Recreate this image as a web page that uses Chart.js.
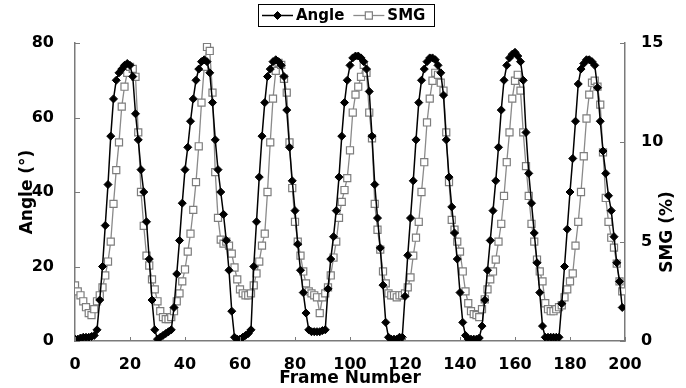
<!DOCTYPE html>
<html>
<head>
<meta charset="utf-8">
<title>Angle and SMG</title>
<script src="https://cdn.jsdelivr.net/npm/chart.js@4.4.0/dist/chart.umd.min.js"></script>
<style>
  html, body { margin: 0; padding: 0; background: #fff; }
  #wrap { width: 686px; height: 388px; }
</style>
</head>
<body>
<div id="wrap"><canvas id="chart" width="686" height="388"></canvas></div>
<script>
// knee angle (degrees), one value per frame, frames 0..199
const angle = [
  0.5, 0.5, 0.8, 1, 1, 1, 1.2, 1.5, 3, 11,
  20, 31, 42, 55, 65, 70, 72, 73, 74, 74.5,
  74, 71, 61, 54, 46, 40, 32, 22, 11, 3,
  0.5, 1, 1.5, 2, 2.5, 3, 9, 18, 27, 37,
  46, 52, 59, 65, 70, 73, 75, 75.5, 75, 72,
  64, 54, 46, 40, 34, 27, 19, 8, 1, 0.5,
  0.5, 1, 1.5, 2, 3, 20, 32, 44, 55, 64,
  71, 73, 75, 75.5, 75, 74, 71, 62, 52, 43,
  35, 26, 19, 13, 7.5, 3, 2.5, 2.5, 2.5, 2.5,
  2.8, 3, 14, 22, 28, 35, 44, 55, 64, 70,
  74, 76, 76.5, 76.5, 76, 75, 73, 67, 55, 42,
  33, 25, 15, 5, 1, 0.5, 0.5, 0.5, 1, 1,
  12, 23, 33, 43, 54, 64, 70, 73, 75, 76,
  76, 75.5, 74, 72, 66, 54, 44, 36, 29, 22,
  13, 5, 1.5, 0.5, 0.5, 0.5, 0.5, 0.8, 4, 11,
  19, 27, 35, 43, 52, 62, 70, 74, 76, 77,
  77.5, 76.5, 75, 70, 56, 45, 37, 29, 21, 13,
  4, 1, 1, 1, 1, 1, 1, 10, 20, 30,
  40, 49, 59, 69, 73, 74.5, 75.5, 75.5, 75, 74,
  68, 59, 51, 45, 39, 35, 28, 21, 16, 9
];

// sonomyography signal (%), same frames
const smg = [
  2.8, 2.5, 2.3, 2.0, 1.7, 1.4, 1.3, 1.6, 2.0, 2.3,
  2.7, 3.3, 4.0, 5.0, 6.9, 8.6, 10.0, 11.8, 12.8, 13.5,
  13.8, 13.7, 13.3, 10.5, 7.5, 5.8, 4.3, 3.8, 3.1, 2.6,
  2.0, 1.5, 1.2, 1.1, 1.1, 1.2, 1.5, 2.0, 2.4, 3.0,
  3.6, 4.5, 5.4, 6.6, 8.0, 9.8, 12.0, 13.8, 14.8, 14.6,
  12.5, 8.5, 6.2, 5.1, 4.9, 5.0, 4.8, 4.4, 3.7, 3.1,
  2.6, 2.4, 2.3, 2.3, 2.4, 2.8, 3.4, 4.0, 4.8, 5.4,
  7.5, 10.0, 12.2, 13.6, 14.0, 13.9, 13.2, 12.5, 10.0, 7.7,
  6.0, 5.0, 4.3, 3.5, 2.9, 2.5, 2.4, 2.3, 2.2, 1.4,
  2.2, 2.4, 2.7, 3.3, 4.2, 5.0, 6.2, 7.0, 7.6, 8.2,
  9.6, 11.5, 12.4, 12.8, 13.3, 13.9, 13.5, 11.5, 10.2, 6.9,
  5.6, 4.6, 3.5, 2.9, 2.4, 2.3, 2.3, 2.2, 2.3, 2.3,
  2.4, 2.7, 3.2, 4.3, 5.2, 6.0, 7.5, 9.0, 11.0, 12.2,
  13.1, 13.5, 13.4, 13.0, 12.6, 10.5, 8.0, 6.1, 5.6, 5.0,
  4.5, 3.5, 2.5, 1.9, 1.5, 1.35, 1.3, 1.2, 1.6, 2.1,
  2.6, 3.1, 3.5, 4.1, 5.0, 5.9, 7.3, 9.0, 10.5, 12.2,
  13.1, 13.4, 12.6, 10.5, 8.8, 7.3, 5.9, 5.0, 4.1, 3.5,
  3.0, 1.9, 1.6, 1.5, 1.5, 1.6, 1.7, 1.8, 2.2, 2.6,
  3.0, 3.4, 4.8, 6.0, 7.5, 9.3, 11.2, 12.4, 13.0, 13.1,
  12.8, 11.9, 9.5, 7.2, 6.0, 5.2, 4.7, 3.9, 3.0, 2.5
];

const frameTicks = [0, 20, 40, 60, 80, 100, 120, 140, 160, 180, 200];
const angleTicks = [0, 20, 40, 60, 80];
const smgTicks = [0, 5, 10, 15];

const FONT = 'DejaVu Sans';
const AXIS_GREY = '#7a7a7a';

const toPoints = arr => arr.map((v, i) => ({ x: i, y: v }));

// Excel style: short tick marks pointing into the plot
const innerTicks = {
  id: 'innerTicks',
  afterDraw(chart) {
    const { ctx, chartArea: a, scales } = chart;
    ctx.save();
    ctx.strokeStyle = AXIS_GREY;
    ctx.lineWidth = 1;
    ctx.beginPath();
    scales.x.ticks.forEach(t => {
      const px = Math.round(scales.x.getPixelForValue(t.value)) + 0.5;
      ctx.moveTo(px, a.bottom);
      ctx.lineTo(px, a.bottom - 4);
    });
    scales.y.ticks.forEach(t => {
      const py = Math.round(scales.y.getPixelForValue(t.value)) + 0.5;
      ctx.moveTo(a.left, py);
      ctx.lineTo(a.left + 5, py);
    });
    scales.y1.ticks.forEach(t => {
      const py = Math.round(scales.y1.getPixelForValue(t.value)) + 0.5;
      ctx.moveTo(a.right, py);
      ctx.lineTo(a.right - 5, py);
    });
    ctx.stroke();
    ctx.restore();
  }
};

// secondary axis title, rotated the same way as the primary one (reads upward)
const rightTitle = {
  id: 'rightTitle',
  afterDraw(chart) {
    const ctx = chart.ctx;
    ctx.save();
    ctx.translate(668, 232);
    ctx.rotate(-Math.PI / 2);
    ctx.font = 'bold 17px "' + FONT + '"';
    ctx.fillStyle = '#000';
    ctx.textAlign = 'center';
    ctx.textBaseline = 'middle';
    ctx.fillText('SMG (%)', 0, 0);
    ctx.restore();
  }
};

// boxed legend with line + marker samples
const legendBox = {
  id: 'legendBox',
  afterDraw(chart) {
    const ctx = chart.ctx;
    const box = { x: 258, y: 4, w: 176, h: 22 };
    ctx.save();
    ctx.fillStyle = '#fff';
    ctx.fillRect(box.x, box.y, box.w, box.h);
    ctx.strokeStyle = '#000';
    ctx.lineWidth = 1;
    ctx.strokeRect(box.x + 0.5, box.y + 0.5, box.w, box.h);
    ctx.font = 'bold 15px "' + FONT + '"';
    ctx.textBaseline = 'middle';
    const cy = box.y + box.h / 2 + 0.5;
    let x = box.x + 4;
    chart.data.datasets.forEach(ds => {
      ctx.strokeStyle = ds.borderColor;
      ctx.lineWidth = ds.borderWidth;
      ctx.beginPath();
      ctx.moveTo(x, cy);
      ctx.lineTo(x + 31, cy);
      ctx.stroke();
      ctx.fillStyle = ds.pointBackgroundColor;
      ctx.strokeStyle = ds.pointBorderColor;
      ctx.lineWidth = ds.pointBorderWidth;
      Chart.helpers.drawPoint(ctx, { pointStyle: ds.pointStyle, radius: ds.pointRadius, borderWidth: ds.pointBorderWidth, rotation: 0 }, x + 15.5, cy);
      ctx.fillStyle = '#000';
      ctx.fillText(ds.label, x + 34, cy + 1);
      x += 34 + ctx.measureText(ds.label).width + 9;
    });
    ctx.restore();
  }
};

const tickFont = { family: FONT, size: 16, weight: 'bold' };
const titleFont = { family: FONT, size: 17, weight: 'bold', lineHeight: 1 };

new Chart(document.getElementById('chart'), {
  type: 'line',
  data: {
    datasets: [
      {
        label: 'Angle',
        data: toPoints(angle),
        yAxisID: 'y',
        borderColor: '#000',
        borderWidth: 1.5,
        pointStyle: 'rectRot',
        pointRadius: 4,
        pointBackgroundColor: '#000',
        pointBorderColor: '#000',
        pointBorderWidth: 1,
        tension: 0
      },
      {
        label: 'SMG',
        data: toPoints(smg),
        yAxisID: 'y1',
        borderColor: '#8a8a8a',
        borderWidth: 1.3,
        pointStyle: 'rect',
        pointRadius: 5,
        pointBackgroundColor: '#fff',
        pointBorderColor: '#7d7d7d',
        pointBorderWidth: 1.2,
        tension: 0
      }
    ]
  },
  options: {
    responsive: false,
    animation: false,
    devicePixelRatio: 1,
    layout: { padding: { top: 43, left: 0, right: 0, bottom: 0 } },
    plugins: {
      legend: { display: false },
      tooltip: { enabled: false }
    },
    scales: {
      x: {
        type: 'linear',
        min: 0,
        max: 200,
        afterBuildTicks: s => { s.ticks = frameTicks.map(v => ({ value: v })); },
        afterFit: s => { s.height = 47; },
        ticks: { font: tickFont, color: '#000', padding: 6, maxRotation: 0 },
        grid: { display: false },
        border: { display: true, color: AXIS_GREY, width: 1.5 },
        title: { display: true, text: 'Frame Number', font: titleFont, color: '#000', padding: { top: 0, bottom: 1 } }
      },
      y: {
        position: 'left',
        min: 0,
        max: 80,
        afterBuildTicks: s => { s.ticks = angleTicks.map(v => ({ value: v })); },
        afterFit: s => { s.width = 75; },
        ticks: { font: tickFont, color: '#000', padding: 13 },
        grid: { display: false },
        border: { display: true, color: AXIS_GREY, width: 1.5 },
        title: { display: true, text: 'Angle (°)', font: titleFont, color: '#000', padding: { top: 19, bottom: 0 } }
      },
      y1: {
        position: 'right',
        min: 0,
        max: 15,
        afterBuildTicks: s => { s.ticks = smgTicks.map(v => ({ value: v })); },
        afterFit: s => { s.width = 61; },
        ticks: { font: tickFont, color: '#000', padding: 8 },
        grid: { display: false },
        border: { display: true, color: AXIS_GREY, width: 1.5 },
        title: { display: false }
      }
    }
  },
  plugins: [innerTicks, rightTitle, legendBox]
});
</script>
</body>
</html>
